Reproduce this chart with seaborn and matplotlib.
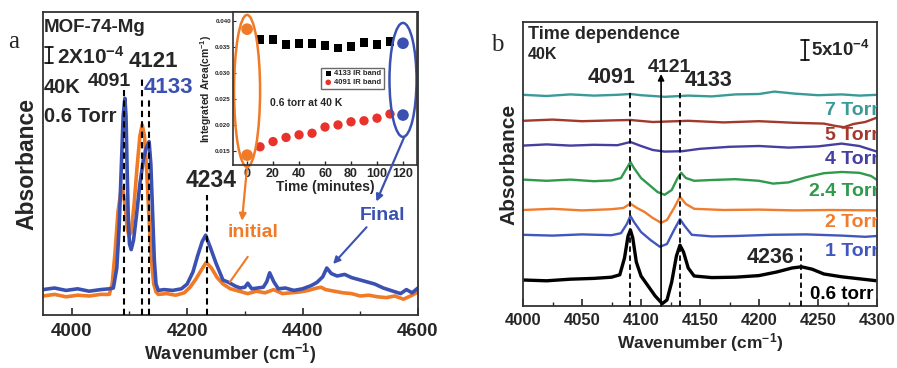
import matplotlib
matplotlib.use("Agg")
import matplotlib.pyplot as plt
from matplotlib.patches import Ellipse
from matplotlib.ticker import MultipleLocator
import seaborn as sns

sns.set_theme(style="ticks")
plt.rcParams['font.family'] = ['Liberation Sans', 'DejaVu Sans']
plt.rcParams['font.weight'] = 'bold'
plt.rcParams['axes.labelweight'] = 'bold'
plt.rcParams['mathtext.fontset'] = 'custom'
plt.rcParams['mathtext.rm'] = 'Liberation Sans:bold'
plt.rcParams['mathtext.bf'] = 'Liberation Sans:bold'
plt.rcParams['mathtext.default'] = 'bf'

# ---- panel a : spectra (absorbance in units of 1e-4) ----
a_wn_blue = [3950, 3970, 3990, 4010, 4030, 4050, 4065, 4072, 4078, 4082, 4086, 4089, 4092, 4094,
             4096, 4098, 4100, 4103, 4107, 4112, 4118, 4124, 4129, 4134, 4137, 4140, 4143, 4146,
             4150, 4160, 4175, 4190, 4200, 4210, 4218, 4226, 4232, 4240, 4250, 4262, 4272, 4283,
             4292, 4300, 4305, 4312, 4322, 4332, 4338, 4343, 4350, 4358, 4370, 4385, 4400, 4415,
             4425, 4435, 4442, 4450, 4460, 4473, 4485, 4495, 4510, 4525, 4540, 4557, 4570, 4580,
             4590, 4600]
a_abs_blue = [0.3, 0.5, 0.2, 0.4, 0.1, 0.3, 0.4, 0.5, 3.0, 8.0, 16.0, 22.0, 24.2, 22.0,
              15.0, 9.0, 6.0, 5.3, 6.5, 9.5, 13.5, 16.5, 18.0, 18.8, 16.0, 10.0, 4.0, 1.0,
              0.2, 0.3, 0.2, 0.4, 1.0, 2.5, 4.5, 6.3, 7.1, 5.6, 3.6, 1.5, 1.2, 0.75,
              0.5, 0.6, 1.1, 0.4, 0.5, 0.6, 1.3, 2.4, 1.3, 0.4, 0.5, 0.2, 0.4, 0.8,
              1.2, 1.9, 3.0, 2.3, 2.0, 2.2, 1.8, 1.6, 1.3, 1.0, 0.5, 0.1, -0.2, 0.3,
              -0.1, 0.5]
a_wn_orange = [3950, 3970, 3990, 4010, 4030, 4050, 4065, 4070, 4075, 4080, 4085, 4088, 4092,
               4096, 4099, 4103, 4108, 4113, 4118, 4122, 4126, 4130, 4134, 4138, 4142, 4146,
               4150, 4165, 4180, 4195, 4205, 4215, 4225, 4233, 4242, 4252, 4262, 4275, 4290,
               4305, 4320, 4335, 4350, 4365, 4380, 4395, 4410, 4425, 4432, 4440, 4455, 4470,
               4485, 4500, 4515, 4530, 4545, 4560, 4575, 4590, 4600]
a_abs_orange = [-0.5, -0.3, -0.6, -0.4, -0.5, -0.3, -0.3, 1.0, 5.0, 10.0, 12.5, 13.0, 11.0,
                8.0, 7.0, 7.5, 11.0, 15.5, 19.5, 20.9, 19.5, 15.0, 9.0, 4.0, 1.0, 0.0,
                -0.3, -0.2, -0.4, -0.1, 0.6, 1.6, 2.8, 3.7, 3.0, 1.8, 1.0, 0.4, 0.1,
                -0.2, 0.1, -0.1, 0.3, -0.2, -0.1, 0.0, 0.2, 0.5, 0.6, 0.3, 0.1, -0.1,
                -0.2, -0.5, -0.4, -0.6, -0.7, -0.5, -0.9, -0.4, 0.0]

# ---- panel a : inset (integrated area) ----
time_4133 = [10, 20, 30, 40, 50, 60, 70, 80, 90, 100, 110]
area_4133 = [0.0364, 0.0364, 0.0355, 0.0357, 0.0356, 0.0353, 0.0348, 0.0351, 0.0358, 0.0355, 0.0360]
time_4091 = [10, 20, 30, 40, 50, 60, 70, 80, 90, 100, 110]
area_4091 = [0.0158, 0.0168, 0.0176, 0.0181, 0.0184, 0.0196, 0.0200, 0.0206, 0.0208, 0.0213, 0.0221]
time_initial = [0, 0]
area_initial = [0.0384, 0.0142]
time_final = [120, 120]
area_final = [0.0357, 0.0219]

# ---- panel b : pressure series (absorbance in units of 1e-4) ----
b_wn_teal = [4000, 4020, 4040, 4060, 4080, 4091, 4100, 4120, 4140, 4160, 4180, 4200, 4213,
             4230, 4250, 4270, 4285, 4300]
b_abs_teal = [52.8, 52.5, 52.9, 52.6, 52.8, 53.0, 52.7, 52.3, 52.6, 52.4, 52.9, 53.0, 53.6,
              53.1, 52.7, 52.9, 52.6, 52.8]
b_wn_red = [4000, 4025, 4050, 4075, 4091, 4110, 4140, 4170, 4200, 4230, 4255, 4265, 4272,
            4280, 4290, 4300]
b_abs_red = [46.3, 46.6, 46.2, 46.4, 46.5, 46.0, 46.3, 45.9, 46.2, 45.8, 45.6, 45.0, 44.7,
             45.5, 46.0, 47.1]
b_wn_purple = [4000, 4020, 4040, 4060, 4080, 4091, 4100, 4110, 4120, 4135, 4150, 4175, 4200,
               4225, 4250, 4270, 4285, 4300]
b_abs_purple = [40.1, 40.4, 40.1, 40.3, 40.2, 41.0, 40.0, 39.0, 38.6, 38.7, 39.3, 39.8, 40.0,
                39.6, 39.9, 40.6, 40.0, 38.6]
b_wn_green = [4000, 4020, 4040, 4060, 4075, 4083, 4088, 4091, 4094, 4100, 4108, 4114, 4120,
              4126, 4131, 4134, 4138, 4145, 4160, 4180, 4200, 4212, 4225, 4240, 4255, 4270,
              4285, 4295, 4300]
b_abs_green = [31.6, 31.3, 31.6, 31.2, 31.4, 32.0, 34.5, 36.0, 34.5, 32.0, 30.0, 28.5, 27.8,
               29.0, 32.0, 33.3, 32.0, 31.3, 31.5, 31.7, 31.3, 30.6, 30.9, 32.2, 33.2, 33.5,
               33.3, 32.5, 31.5]
b_wn_orange = [4000, 4025, 4050, 4075, 4085, 4091, 4096, 4103, 4110, 4117, 4122, 4128, 4133,
               4138, 4145, 4170, 4200, 4230, 4260, 4300]
b_abs_orange = [24.0, 24.3, 23.9, 24.2, 24.5, 25.6, 24.6, 23.5, 22.0, 20.8, 21.5, 24.5, 27.3,
                25.5, 24.3, 24.0, 24.1, 23.9, 24.0, 23.9]
b_wn_blue = [4000, 4025, 4050, 4075, 4083, 4088, 4091, 4094, 4100, 4108, 4116, 4122, 4128,
             4133, 4137, 4143, 4160, 4180, 4210, 4240, 4270, 4290, 4300]
b_abs_blue = [17.8, 17.6, 17.9, 17.7, 18.2, 20.5, 22.5, 21.0, 18.5, 16.5, 14.8, 15.5, 19.0,
              21.7, 20.0, 17.8, 17.4, 17.5, 17.8, 17.9, 17.6, 17.3, 17.5]
b_wn_black = [4000, 4020, 4040, 4060, 4075, 4082, 4086, 4089, 4091, 4093, 4096, 4100, 4106,
              4112, 4118, 4122, 4126, 4130, 4133, 4136, 4140, 4145, 4160, 4180, 4200, 4215,
              4228, 4236, 4245, 4255, 4270, 4285, 4300]
b_abs_black = [6.5, 6.3, 6.7, 6.9, 7.2, 7.8, 12.0, 17.5, 19.0, 17.0, 11.0, 7.5, 5.0,
               2.5, 0.6, 1.5, 6.0, 12.5, 15.2, 13.5, 9.5, 7.5, 7.1, 7.2, 7.6, 8.5,
               9.5, 9.8, 9.2, 8.0, 7.3, 6.8, 6.3]
b_labels = ['7 Torr', '5 Torr', '4 Torr', '2.4 Torr', '2 Torr', '1 Torr', '0.6 torr']
b_label_y = [49.0, 42.75, 36.5, 28.5, 20.75, 13.5, 2.75]

ORANGE = '#f07a26'
BLUE = '#3b51b2'
b_colors = ['#3a9a98', '#a3382c', '#463fa0', '#2f9a4c', '#f07d2e', '#4257bd', 'black']

fig = plt.figure(figsize=(8.97, 3.68), dpi=100)

# ================= panel a =================
ax = fig.add_axes([0.0479, 0.144, 0.418, 0.8234])
sns.lineplot(x=a_wn_orange, y=a_abs_orange, ax=ax, color=ORANGE, lw=2.6, sort=False, estimator=None)
sns.lineplot(x=a_wn_blue, y=a_abs_blue, ax=ax, color=BLUE, lw=2.6, sort=False, estimator=None)
ax.set_xlim(3950, 4600)
ax.set_ylim(-2.875, 35)
ax.set_yticks([])
ax.xaxis.set_major_locator(MultipleLocator(200))
ax.xaxis.set_minor_locator(MultipleLocator(100))
ax.tick_params(axis='x', which='major', direction='in', length=5, width=1.2, labelsize=13.5, pad=6)
ax.tick_params(axis='x', which='minor', direction='in', length=3, width=1.0)
ax.set_xlabel('Wavenumber (cm$^{-1}$)', fontsize=13, labelpad=1)
ax.set_ylabel('Absorbance', fontsize=16.5, labelpad=3)
for s in ax.spines.values():
    s.set_linewidth(1.3)
    s.set_color('#333333')

for wn, top in [(4091, 25.2), (4121, 26.7), (4133, 24.4), (4234, 12.1)]:
    ax.plot([wn, wn], [-2.875, top], ls=(0, (3, 2)), color='black', lw=1.5, zorder=5)

ax.text(3951, 33, 'MOF-74-Mg', fontsize=13.5, va='center', ha='left')
ax.annotate('', xy=(3960.5, 30.6), xytext=(3960.5, 28.6),
            arrowprops=dict(arrowstyle='|-|,widthA=0.25,widthB=0.25', lw=1.2, color='black',
                            shrinkA=0, shrinkB=0))
ax.text(3975, 29.4, '2X10$^{-4}$', fontsize=15, va='center', ha='left')
ax.text(3951, 25.5, '40K', fontsize=14.5, va='center', ha='left')
ax.text(3951, 21.9, '0.6 Torr', fontsize=14.5, va='center', ha='left')
ax.text(4065, 26.3, '4091', fontsize=14, va='center', ha='center')
ax.text(4141, 28.8, '4121', fontsize=16, va='center', ha='center')
ax.text(4168, 25.6, '4133', fontsize=16, va='center', ha='center', color=BLUE)
ax.text(4241, 14.0, '4234', fontsize=16.5, va='center', ha='center')
ax.text(4314, 7.4, 'initial', fontsize=14, va='center', ha='center', color=ORANGE)
ax.text(4538, 9.6, 'Final', fontsize=14, va='center', ha='center', color=BLUE)
ax.annotate('', xy=(4274, 1.25), xytext=(4305, 4.4),
            arrowprops=dict(arrowstyle='-', lw=1.5, color=ORANGE, shrinkA=0, shrinkB=0))
ax.annotate('', xy=(4453, 3.5), xytext=(4511, 8.1),
            arrowprops=dict(arrowstyle='-|>', lw=1.5, color=BLUE, shrinkA=0, shrinkB=0,
                            mutation_scale=10))

# inset
ax_in = fig.add_axes([0.2598, 0.5516, 0.2051, 0.4158])
sns.scatterplot(x=time_4133, y=area_4133, ax=ax_in, marker='s', color='black', s=40,
                edgecolor='none', label='4133 IR band')
sns.scatterplot(x=time_4091, y=area_4091, ax=ax_in, marker='o', color='#e8322b', s=45,
                edgecolor='none', label='4091 IR band')
sns.scatterplot(x=time_initial, y=area_initial, ax=ax_in, marker='o', color=ORANGE, s=70,
                edgecolor='none')
sns.scatterplot(x=time_final, y=area_final, ax=ax_in, marker='o', color=BLUE, s=70,
                edgecolor='none')
ax_in.set_xlim(-10.8, 130.8)
ax_in.set_ylim(0.0123, 0.0417)
ax_in.set_xticks([0, 20, 40, 60, 80, 100, 120])
ax_in.set_yticks([0.015, 0.020, 0.025, 0.030, 0.035, 0.040])
ax_in.set_yticklabels(['0.015', '0.020', '0.025', '0.030', '0.035', '0.040'])
ax_in.tick_params(axis='x', direction='in', length=3, width=1.0, labelsize=9, pad=2)
ax_in.tick_params(axis='y', direction='in', length=2, width=0.8, labelsize=4.5, pad=1.5)
ax_in.set_xlabel('Time (minutes)', fontsize=10, labelpad=0)
ax_in.set_ylabel('Integrated Area(cm$^{-1}$)', fontsize=7.5, labelpad=1)
for s in ax_in.spines.values():
    s.set_linewidth(1.2)
    s.set_color('#333333')
h, l = ax_in.get_legend_handles_labels()
ax_in.legend(h[:2], l[:2], loc='upper right', bbox_to_anchor=(0.84, 0.66), fontsize=5.5,
             frameon=True, fancybox=False, edgecolor='#444444', borderpad=0.3, handletextpad=0.2,
             labelspacing=0.2, markerscale=0.6, handlelength=1.2)
ax_in.text(45.4, 0.0242, '0.6 torr at 40 K', fontsize=7.5, ha='center', va='center')
ax_in.add_patch(Ellipse((0, 0.02654), 20, 0.0292, fill=False, ec=ORANGE, lw=1.8, clip_on=False))
ax_in.add_patch(Ellipse((120, 0.02865), 20.8, 0.0219, fill=False, ec=BLUE, lw=1.8, clip_on=False))
ax_in.annotate('', xy=(4295, 8.9), xycoords=ax.transData, xytext=(0, 0.0119), textcoords='data',
               arrowprops=dict(arrowstyle='-|>', lw=1.6, color=ORANGE, shrinkA=0, shrinkB=0,
                               mutation_scale=10), annotation_clip=False)
ax_in.annotate('', xy=(4528, 11.3), xycoords=ax.transData, xytext=(121, 0.0177), textcoords='data',
               arrowprops=dict(arrowstyle='-|>', lw=1.6, color=BLUE, shrinkA=0, shrinkB=0,
                               mutation_scale=10), annotation_clip=False)

# ================= panel b =================
bx = fig.add_axes([0.5831, 0.1685, 0.3946, 0.7717])
b_series = [(b_wn_teal, b_abs_teal), (b_wn_red, b_abs_red), (b_wn_purple, b_abs_purple),
            (b_wn_green, b_abs_green), (b_wn_orange, b_abs_orange), (b_wn_blue, b_abs_blue),
            (b_wn_black, b_abs_black)]
for (wn, ab), c in zip(b_series, b_colors):
    sns.lineplot(x=wn, y=ab, ax=bx, color=c, lw=2.4 if c == 'black' else 1.7, sort=False,
                 estimator=None)
bx.set_xlim(4000, 4300)
bx.set_ylim(0, 71)
bx.set_yticks([])
bx.xaxis.set_major_locator(MultipleLocator(50))
bx.xaxis.set_minor_locator(MultipleLocator(25))
bx.tick_params(axis='x', which='major', direction='in', length=5, width=1.2, labelsize=12, pad=5)
bx.tick_params(axis='x', which='minor', direction='in', length=3, width=1.0)
bx.set_xlabel('Wavenumber (cm$^{-1}$)', fontsize=12.5, labelpad=2)
bx.set_ylabel('Absorbance', fontsize=15, labelpad=3)
for s in bx.spines.values():
    s.set_linewidth(1.3)
    s.set_color('#333333')

for wn, top in [(4091, 54.0), (4133, 53.5), (4236, 14.5)]:
    bx.plot([wn, wn], [0, top], ls=(0, (3, 2)), color='black', lw=1.3, zorder=5)
bx.annotate('', xy=(4117, 58.0), xytext=(4117, 0),
            arrowprops=dict(arrowstyle='-|>', lw=1.2, color='black', shrinkA=0, shrinkB=0,
                            mutation_scale=9))
bx.text(4004, 67.8, 'Time dependence', fontsize=13, ha='left', va='center')
bx.text(4004, 62.8, '40K', fontsize=11.5, ha='left', va='center')
bx.text(4075, 57.2, '4091', fontsize=15.5, ha='center', va='center')
bx.text(4124, 59.6, '4121', fontsize=14, ha='center', va='center')
bx.text(4157, 56.5, '4133', fontsize=15.5, ha='center', va='center')
bx.text(4210, 12.0, '4236', fontsize=15.5, ha='center', va='center')
bx.annotate('', xy=(4239, 66.5), xytext=(4239, 61.5),
            arrowprops=dict(arrowstyle='|-|,widthA=0.25,widthB=0.25', lw=1.2, color='black',
                            shrinkA=0, shrinkB=0))
bx.text(4244, 64.0, '5x10$^{-4}$', fontsize=13.5, ha='left', va='center', clip_on=True)
for lab, y, c in zip(b_labels, b_label_y, b_colors):
    bx.text(4297 if c == 'black' else 4301.5, y, lab, fontsize=14 if c != 'black' else 13.5,
            ha='right', va='center', color=c, clip_on=True)

fig.text(0.0156, 0.886, 'a', fontsize=18, family=['Liberation Serif', 'DejaVu Serif'],
         fontweight='normal', ha='center', va='center')
fig.text(0.554, 0.878, 'b', fontsize=18, family=['Liberation Serif', 'DejaVu Serif'],
         fontweight='normal', ha='center', va='center')

fig.savefig('out.png', dpi=100)
